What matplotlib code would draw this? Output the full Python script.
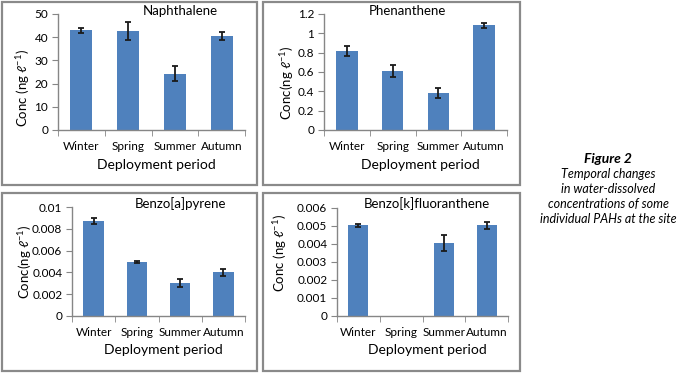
import numpy as np
import matplotlib
matplotlib.use("Agg")
import matplotlib.pyplot as plt
from matplotlib.patches import Rectangle

plt.rcParams['font.family'] = ['Lato', 'DejaVu Sans']
plt.rcParams['mathtext.fontset'] = 'custom'
plt.rcParams['mathtext.rm'] = 'Lato'

seasons = ["Winter", "Spring", "Summer", "Autumn"]

naph_vals = [43.0, 42.8, 24.3, 40.5]
naph_err = [1.0, 3.8, 3.2, 1.9]
phen_vals = [0.82, 0.61, 0.38, 1.085]
phen_err = [0.05, 0.065, 0.05, 0.025]
bap_vals = [0.00873, 0.00496, 0.00305, 0.00400]
bap_err = [0.0003, 0.0001, 0.00035, 0.0003]
bkf_vals = [0.00503, float('nan'), 0.00405, 0.00503]
bkf_err = [0.0001, float('nan'), 0.00043, 0.0002]

titles = ["Naphthalene", "Phenanthene", "Benzo[a]pyrene", "Benzo[k]fluoranthene"]
yticks = [
    [0, 10, 20, 30, 40, 50],
    [0, 0.2, 0.4, 0.6, 0.8, 1, 1.2],
    [0, 0.002, 0.004, 0.006, 0.008, 0.01],
    [0, 0.001, 0.002, 0.003, 0.004, 0.005, 0.006],
]
yticklabels = [
    ["0", "10", "20", "30", "40", "50"],
    ["0", "0.2", "0.4", "0.6", "0.8", "1", "1.2"],
    ["0", "0.002", "0.004", "0.006", "0.008", "0.01"],
    ["0", "0.001", "0.002", "0.003", "0.004", "0.005", "0.006"],
]
ylabels = ["Conc (ng ℓ$^{-1}$)", "Conc(ng ℓ$^{-1}$)", "Conc(ng ℓ$^{-1}$)", "Conc (ng ℓ$^{-1}$)"]
xlabel = "Deployment period"
caption_title = "Figure 2"
caption_lines = ["Temporal changes", "in water-dissolved",
                 "concentrations of some", "individual PAHs at the site"]

W, H = 679, 373
fig = plt.figure(figsize=(W / 100, H / 100), dpi=100)

def fx(x):
    return x / W

def fy(y):
    return 1 - y / H

# panel frames (left, top, right, bottom) in pixels
frames = [(2, 2, 257, 185), (263, 2, 520, 185), (2, 193, 257, 371), (263, 193, 520, 371)]
for l, t, r, b in frames:
    fig.patches.append(Rectangle((fx(l), fy(b)), fx(r - l), (b - t) / H,
                                 transform=fig.transFigure, fill=False,
                                 edgecolor='#8a8a8a', linewidth=1.6))

# axes boxes (left, top, right, bottom)
axboxes = [(58, 14, 245, 130), (324, 14, 507, 130), (72, 207, 245, 316), (337, 208, 508, 316)]
title_pos = [(180, 11), (407, 11), (180, 204), (427, 204)]
ylabel_pos = [(23, 88), (287, 83), (25, 262), (280, 253)]
xlabel_y = [165, 165, 350, 350]

data = [(naph_vals, naph_err), (phen_vals, phen_err), (bap_vals, bap_err), (bkf_vals, bkf_err)]

axis_color = '#868686'
bar_color = '#4F81BD'

for i, (vals, errs) in enumerate(data):
    l, t, r, b = axboxes[i]
    ax = fig.add_axes([fx(l), fy(b), fx(r - l), (b - t) / H])
    x = np.arange(len(seasons))
    ax.bar(x, vals, width=0.47, color=bar_color, zorder=2)
    ax.errorbar(x, vals, yerr=errs, fmt='none', ecolor='#1a1a1a',
                elinewidth=1.3, capsize=2.5, capthick=1.3, zorder=3)
    ax.set_xlim(-0.5, len(seasons) - 0.5)
    ax.set_ylim(yticks[i][0], yticks[i][-1])
    ax.set_yticks(yticks[i])
    ax.set_yticklabels(yticklabels[i], fontsize=8.5)
    ax.set_xticks(x)
    ax.set_xticklabels(seasons, fontsize=8.5)
    ax.set_xticks(np.arange(-0.5, len(seasons), 1.0), minor=True)
    ax.tick_params(axis='x', which='major', length=0, pad=8)
    ax.tick_params(axis='x', which='minor', length=4, color=axis_color, direction='out')
    ax.tick_params(axis='y', length=4, color=axis_color, direction='out', pad=3)
    for s in ['top', 'right']:
        ax.spines[s].set_visible(False)
    for s in ['left', 'bottom']:
        ax.spines[s].set_color(axis_color)
        ax.spines[s].set_linewidth(1.0)
    ax.patch.set_alpha(0)
    tx, ty = title_pos[i]
    fig.text(fx(tx), fy(ty), titles[i], ha='center', va='center', fontsize=9.5)
    lx, ly = ylabel_pos[i]
    fig.text(fx(lx), fy(ly), ylabels[i], ha='center', va='center', fontsize=9.5, rotation=90)
    fig.text(fx((l + r) / 2 + 5), fy(xlabel_y[i]), xlabel, ha='center', va='center', fontsize=10)

cx = 608
fig.text(fx(cx), fy(159), caption_title, ha='center', va='center', fontsize=10,
         fontweight='bold', fontstyle='italic')
for k, line in enumerate(caption_lines):
    fig.text(fx(cx), fy(174 + 15 * k), line, ha='center', va='center', fontsize=9,
             fontstyle='italic')

fig.savefig("out.png", dpi=100)
